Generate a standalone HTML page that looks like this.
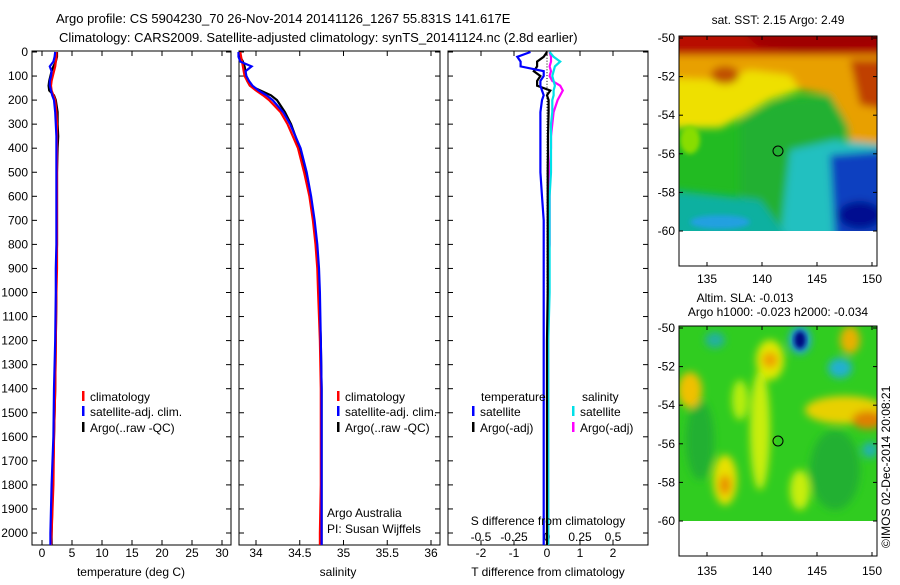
<!DOCTYPE html>
<html><head><meta charset="utf-8"><style>
body{margin:0;background:#fff;}
svg text{font-family:"Liberation Sans",sans-serif;fill:#000;}
</style></head><body>
<svg id="chart" width="900" height="580" viewBox="0 0 900 580" xmlns="http://www.w3.org/2000/svg">
<defs>
<filter id="bl" x="-20%" y="-20%" width="140%" height="140%"><feGaussianBlur stdDeviation="4"/></filter>
<filter id="bl2" x="-20%" y="-20%" width="140%" height="140%"><feGaussianBlur stdDeviation="2.5"/></filter>
<clipPath id="c1"><rect x="679" y="36" width="198" height="195"/></clipPath>
<clipPath id="c2"><rect x="679" y="326" width="198" height="195"/></clipPath>
</defs>
<text x="56" y="23" font-size="13">Argo profile: CS 5904230_70 26-Nov-2014 20141126_1267 55.831S 141.617E</text>
<text x="59" y="42" font-size="13">Climatology: CARS2009. Satellite-adjusted climatology: synTS_20141124.nc (2.8d earlier)</text>
<g id="plots"></g>

<!-- top map -->
<g>
<g clip-path="url(#c1)">
<rect x="679" y="36" width="198" height="195" fill="#22bb22"/>
<g filter="url(#bl)">
<polygon points="670,30 890,30 890,150 850,145 845,120 830,95 800,90 770,100 745,115 700,125 670,125" fill="#e8a000"/>
<polygon points="670,78 720,80 750,70 790,75 800,90 770,100 745,115 720,128 670,128" fill="#eee000"/>
<polygon points="670,30 890,30 890,55 670,55" fill="#b81000"/>
<polygon points="740,30 890,30 890,48 800,52 760,48" fill="#a00000"/>
<polygon points="850,60 890,60 890,110 860,105" fill="#c04000"/>
<ellipse cx="725" cy="75" rx="14" ry="9" fill="#c05000"/>
<polygon points="740,120 780,100 830,95 850,130 830,150 800,160 790,240 740,240" fill="#22b030"/>
<polygon points="790,150 835,140 890,145 890,240 780,240" fill="#20c0c0"/>
<polygon points="830,155 890,150 890,240 835,240" fill="#1040c0"/>
<ellipse cx="860" cy="215" rx="22" ry="14" fill="#001090"/>
<polygon points="670,190 760,200 790,240 670,240" fill="#10b0a0"/>
</g>
<g filter="url(#bl2)">
<ellipse cx="720" cy="222" rx="30" ry="7" fill="#20a0e0"/>
<ellipse cx="690" cy="140" rx="10" ry="14" fill="#88dd00"/>
</g>
</g>
<rect x="679" y="36" width="198" height="230" fill="none" stroke="#000"/>
<circle cx="778" cy="151" r="5" fill="none" stroke="#000"/>
<text x="778" y="24" font-size="12" text-anchor="middle">sat. SST: 2.15 Argo: 2.49</text>
</g>

<!-- bottom map -->
<g>
<g clip-path="url(#c2)">
<rect x="679" y="326" width="198" height="195" fill="#30cc20"/>
<g filter="url(#bl)">
<ellipse cx="700" cy="440" rx="14" ry="40" fill="#22b030"/>
<ellipse cx="835" cy="470" rx="25" ry="40" fill="#22b030"/>
<ellipse cx="770" cy="360" rx="14" ry="20" fill="#e0e800"/>
<ellipse cx="770" cy="360" rx="8" ry="8" fill="#f0a000"/>
<ellipse cx="690" cy="390" rx="12" ry="18" fill="#f0c000"/>
<ellipse cx="760" cy="430" rx="10" ry="60" fill="#c8ee10"/>
<ellipse cx="740" cy="400" rx="8" ry="20" fill="#b8ee10"/>
<ellipse cx="725" cy="480" rx="12" ry="25" fill="#e8e000"/>
<ellipse cx="725" cy="485" rx="6" ry="10" fill="#e89000"/>
<ellipse cx="845" cy="410" rx="40" ry="14" fill="#e8d000"/>
<ellipse cx="868" cy="420" rx="16" ry="9" fill="#e08000"/>
<ellipse cx="850" cy="340" rx="10" ry="14" fill="#e8b000"/>
<ellipse cx="800" cy="490" rx="10" ry="20" fill="#c8ee10"/>
<ellipse cx="715" cy="340" rx="10" ry="8" fill="#20b0a0"/>
<ellipse cx="840" cy="368" rx="12" ry="10" fill="#20b0d0"/>
<ellipse cx="800" cy="340" rx="11" ry="14" fill="#20a0e0"/>
<ellipse cx="870" cy="450" rx="8" ry="8" fill="#20b0b0"/>
</g>
<ellipse cx="800" cy="340" rx="6" ry="9" fill="#001080" filter="url(#bl2)"/>
</g>
<rect x="679" y="326" width="198" height="230" fill="none" stroke="#000"/>
<circle cx="778" cy="441" r="5" fill="none" stroke="#000"/>
<text x="745" y="302" font-size="12" text-anchor="middle">Altim. SLA: -0.013</text>
<text x="778" y="316" font-size="12" text-anchor="middle">Argo h1000: -0.023 h2000: -0.034</text>
<text transform="translate(890,548) rotate(-90)" font-size="12">©IMOS 02-Dec-2014 20:08:21</text>
</g>
<g id="maps"></g>
</svg>
<script>
const depths=[0,20,40,60,80,100,120,140,160,180,200,250,300,350,400,500,600,700,800,900,1000,1200,1400,1600,1800,2000,2050];
const tempClim=[2.4,2.4,2.3,2.2,2.0,1.8,1.6,1.5,1.6,1.9,2.2,2.4,2.5,2.5,2.5,2.5,2.5,2.5,2.5,2.5,2.4,2.3,2.2,2.0,1.9,1.6,1.5];
const tempSat=[2.2,2.1,1.9,1.3,1.6,1.5,1.3,1.3,1.5,1.7,2.0,2.2,2.3,2.4,2.4,2.4,2.4,2.4,2.4,2.3,2.3,2.2,2.0,1.9,1.6,1.4,1.4];
const tempArgo=[2.5,2.5,2.3,1.9,1.6,1.4,1.2,1.1,1.2,2.0,2.3,2.6,2.6,2.7,2.6,2.5,2.5,2.5,2.5,2.4,2.4,2.3,2.2,2.0,1.8,1.6,1.6];
const salClim=[33.82,33.83,33.84,33.85,33.86,33.87,33.9,33.93,34.0,34.08,34.15,34.28,34.36,34.42,34.48,34.55,34.61,34.65,34.68,34.7,34.71,34.73,34.74,34.74,34.74,34.73,34.73];
const salSat=[33.8,33.8,33.82,33.95,33.88,33.89,33.92,33.96,34.03,34.12,34.19,34.31,34.39,34.45,34.51,34.58,34.63,34.67,34.7,34.72,34.73,34.74,34.75,34.75,34.75,34.75,34.75];
const salArgo=[33.8,33.82,33.85,33.87,33.88,33.88,33.9,33.93,34.05,34.17,34.24,34.33,34.4,34.45,34.5,34.57,34.62,34.66,34.69,34.71,34.72,34.74,34.75,34.75,34.75,34.75,34.75];
const tDiffSat=[-0.5,-0.9,-0.8,-0.8,-0.1,-0.1,-0.2,-0.2,-0.15,-0.1,-0.15,-0.2,-0.2,-0.2,-0.2,-0.2,-0.15,-0.1,-0.1,-0.1,-0.1,-0.1,-0.1,-0.1,-0.1,-0.1,-0.1];
const tDiffArgo=[0,-0.1,-0.3,-0.3,-0.4,-0.2,-0.3,-0.3,0.1,0.0,0.05,0.05,0.04,0.03,0.03,0.02,0.02,0.02,0.02,0.02,0.02,0.0,0.0,0.0,0.0,0.0,0.0];
const sDiffSat=[0.02,0.05,0.1,0.06,0.05,0.04,0.05,0.06,0.05,0.05,0.04,0.04,0.03,0.03,0.03,0.03,0.02,0.02,0.02,0.02,0.02,0.01,0.01,0.01,0.01,0.01,0.01];
const sDiffArgo=[0.02,0.03,0.03,0.02,0.03,0.02,0.04,0.1,0.12,0.1,0.08,0.05,0.04,0.03,0.03,0.02,0.02,0.02,0.02,0.01,0.01,0.01,0.01,0.01,0.01,0.01,0.01];
const depthTicks=[0,100,200,300,400,500,600,700,800,900,1000,1100,1200,1300,1400,1500,1600,1700,1800,1900,2000];
const tempTicks=[0,5,10,15,20,25,30];
const salTicks=[34,34.5,35,35.5,36];
const tdTicks=[-2,-1,0,1,2];
const sdTicks=[-0.5,-0.25,0,0.25,0.5];

const NS='http://www.w3.org/2000/svg';
const root=document.getElementById('plots');
const Y0=52,YS=0.2405,TOP=51,BOT=545;
const yD=d=>Y0+d*YS;
const xT=t=>42+6*t;
const xS=s=>256+87.5*(s-34);
const xTD=v=>547+33*v;
const xSD=v=>547+132*v;
function mk(tag,attrs,parent){const e=document.createElementNS(NS,tag);for(const k in attrs)e.setAttribute(k,attrs[k]);(parent||root).appendChild(e);return e;}
function txt(x,y,s,anchor,size){const t=mk('text',{x:x,y:y,'font-size':size||12,'text-anchor':anchor||'middle'});t.textContent=s;return t;}
function frame(x0,x1,name){
  const r=mk('rect',{x:x0,y:TOP,width:x1-x0,height:BOT-TOP,fill:'none',stroke:'#000'});
  
  
  depthTicks.forEach(d=>{mk('line',{x1:x0,x2:x0+5,y1:yD(d),y2:yD(d),stroke:'#000'});mk('line',{x1:x1,x2:x1-5,y1:yD(d),y2:yD(d),stroke:'#000'});});
}
function xticks(vals,f,labelY,fmt){vals.forEach(v=>{const x=f(v);mk('line',{x1:x,x2:x,y1:BOT,y2:BOT-5,stroke:'#000'});mk('line',{x1:x,x2:x,y1:TOP,y2:TOP+5,stroke:'#000'});const t=txt(x,labelY,fmt?fmt(v):String(v));});}
function line(vals,f,color,name,w){
  const n=Math.min(vals.length,depths.length);const pts=[];
  for(let i=0;i<n;i++)pts.push(f(vals[i]).toFixed(1)+','+yD(depths[i]).toFixed(1));
  const p=mk('polyline',{points:pts.join(' '),fill:'none',stroke:color,'stroke-width':w||2.2});
  
  
}
function legend(x,y,color,label){mk('rect',{x:x,y:y-10,width:2.5,height:10,fill:color});const t=txt(x+8,y,label,'start');}

depthTicks.forEach(d=>{const t=txt(28,yD(d)+4,String(d),'end');});

frame(32,231,'temperature-panel');
xticks(tempTicks,xT,557);
line(tempArgo,xT,'#000','temp-argo-line');
line(tempClim,xT,'#f00','temp-climatology-line');
line(tempSat,xT,'#0000ff','temp-satellite-line');
let t=txt(131,576,'temperature (deg C)');
legend(82,401,'#f00','climatology');legend(82,416,'#0000ff','satellite-adj. clim.');legend(82,432,'#000','Argo(..raw -QC)');

frame(239,440,'salinity-panel');
xticks(salTicks,xS,557);
line(salArgo,xS,'#000','salinity-argo-line');
line(salClim,xS,'#f00','salinity-climatology-line');
line(salSat,xS,'#0000ff','salinity-satellite-line');
t=txt(338,576,'salinity');
legend(337,401,'#f00','climatology');legend(337,416,'#0000ff','satellite-adj. clim.');legend(337,432,'#000','Argo(..raw -QC)');
t=txt(327,517,'Argo Australia','start');
t=txt(327,533,'PI: Susan Wijffels','start');

frame(448,648,'difference-panel');
xticks(tdTicks,xTD,557);
sdTicks.forEach(v=>{const tt=txt(xSD(v),541,String(v));});
for(let d=0;d<=2050;d+=12)mk('rect',{x:546.5,y:yD(d),width:1,height:1,fill:'#000'});
line(sDiffArgo,xSD,'#ff00ff','s-diff-argo-line');
line(sDiffSat,xSD,'#00e0e8','s-diff-satellite-line');
line(tDiffArgo,xTD,'#000','t-diff-argo-line');
line(tDiffSat,xTD,'#0000ff','t-diff-satellite-line');
t=txt(548,525,'S difference from climatology');
t=txt(548,576,'T difference from climatology');
t=txt(481,401,'temperature','start');
t=txt(582,401,'salinity','start');
legend(472,416,'#0000ff','satellite');legend(472,432,'#000','Argo(-adj)');
legend(572,416,'#00e0e8','satellite');legend(572,432,'#ff00ff','Argo(-adj)');

const mapG=document.getElementById('maps');
const lonTicks=[135,140,145,150];
const latTicks=[-50,-52,-54,-56,-58,-60];
[[36,38,268],[326,328,560]].forEach(([top,y50,ly])=>{
  const bottom=top+230;
  lonTicks.forEach(l=>{const x=707+(l-135)*11;mk('line',{x1:x,x2:x,y1:bottom,y2:bottom-4,stroke:'#000'},mapG);mk('line',{x1:x,x2:x,y1:top,y2:top+4,stroke:'#000'},mapG);const tt=mk('text',{x:x,y:ly+15,'font-size':12,'text-anchor':'middle'},mapG);tt.textContent=String(l);});
  latTicks.forEach(l=>{const y=y50+(-50-l)*19.3;mk('line',{x1:679,x2:683,y1:y,y2:y,stroke:'#000'},mapG);mk('line',{x1:877,x2:873,y1:y,y2:y,stroke:'#000'},mapG);const tt=mk('text',{x:675,y:y+4,'font-size':12,'text-anchor':'end'},mapG);tt.textContent=String(l);});
});
</script>
</body></html>
